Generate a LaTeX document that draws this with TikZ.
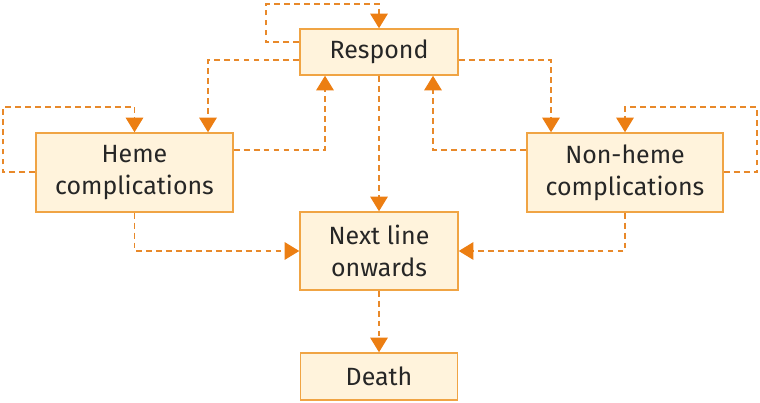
\documentclass[tikz,border=0pt]{standalone}
\usepackage{fontspec}
\setmainfont{Fira Sans}
\usetikzlibrary{arrows.meta,positioning}
\definecolor{boxline}{HTML}{F0A444}
\definecolor{boxfill}{HTML}{FFF3DC}
\definecolor{linkcol}{HTML}{E8892A}
\definecolor{tipcol}{HTML}{EC7E12}
\definecolor{txt}{HTML}{262626}

\begin{document}
\begin{tikzpicture}[
    x=0.03cm, y=-0.03cm,
    box/.style={draw=boxline, fill=boxfill, line width=1.3pt, align=center, inner sep=0pt,
        text=txt, font=\fontsize{21.3}{27.5}\selectfont},
    arr/.style={-{Triangle[length=4.4mm, width=5.3mm, color=tipcol]}, draw=linkcol,
        line width=1pt, dash pattern=on 5pt off 3.5pt}
]
\useasboundingbox (0,0) rectangle (760,403);
\node[box, minimum width=158*0.03cm, minimum height=46*0.03cm] (respond) at (379,52) {Respond};
\node[box, minimum width=197*0.03cm, minimum height=79*0.03cm] (heme) at (134.5,172.5) {Heme\\complications};
\node[box, minimum width=196*0.03cm, minimum height=79*0.03cm] (nonheme) at (625,172.5) {Non-heme\\complications};
\node[box, minimum width=158*0.03cm, minimum height=78*0.03cm] (next) at (379,251) {Next line\\onwards};
\node[box, minimum width=157*0.03cm, minimum height=47*0.03cm] (death) at (379,376.5) {Death};
% self loops
\draw[arr] (respond.west |- 0,42) -| (266,4) -| (respond.north);
\draw[arr] (heme.west |- 0,172) -| (3,107) -| (heme.north);
\draw[arr] (nonheme.east |- 0,172) -| (757,107) -| (nonheme.north);
% respond <-> complications
\draw[arr] (respond.west |- 0,60) -| (heme.north -| 208,0);
\draw[arr] (respond.east |- 0,60) -| (nonheme.north -| 551,0);
\draw[arr] (heme.east |- 0,150) -| (respond.south -| 325,0);
\draw[arr] (nonheme.west |- 0,150) -| (respond.south -| 433,0);
% towards next line
\draw[arr] (respond.south) -- (next.north);
\draw[arr] (heme.south) |- (next.west);
\draw[arr] (nonheme.south) |- (next.east);
\draw[arr] (next.south) -- (death.north);
\end{tikzpicture}
\end{document}
